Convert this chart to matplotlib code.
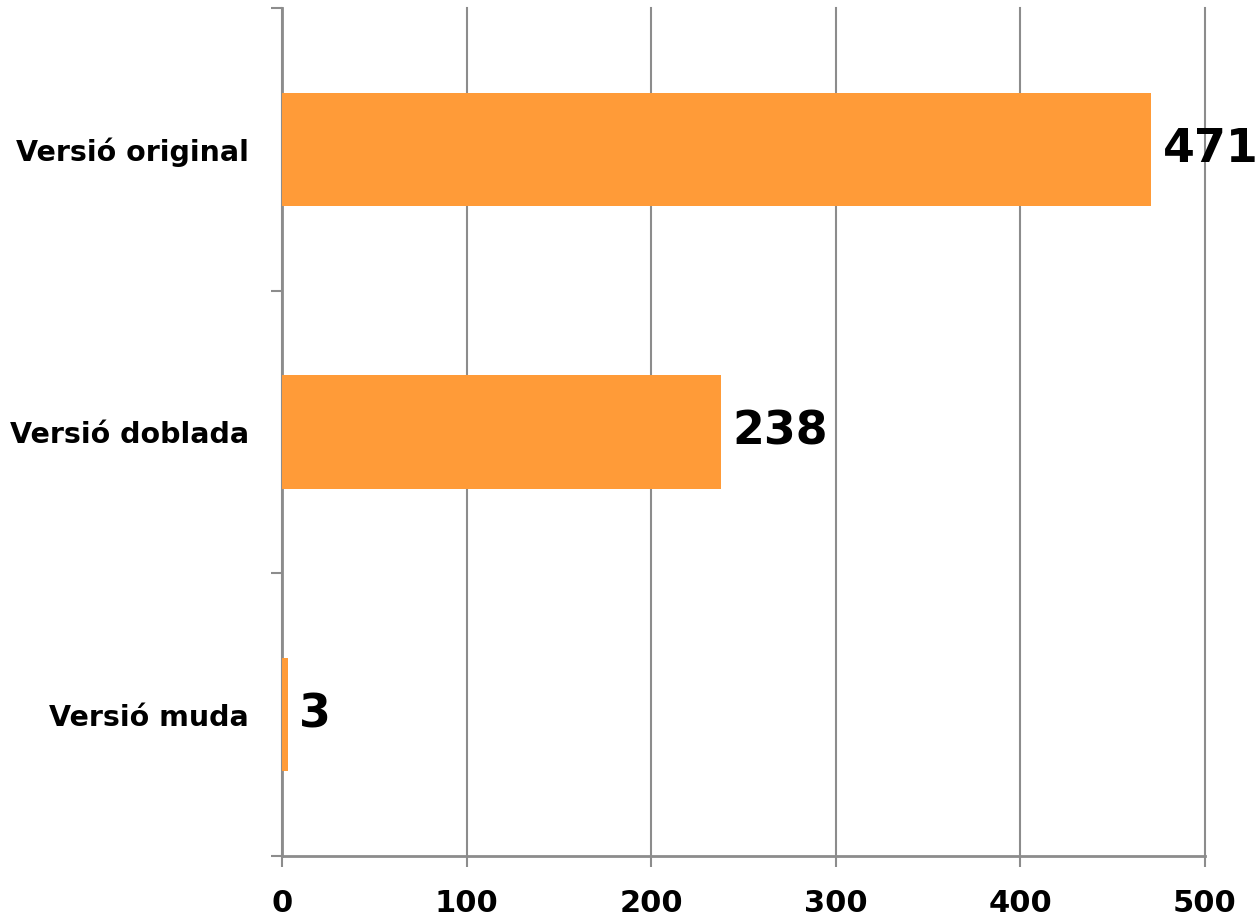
import matplotlib
matplotlib.use("Agg")
from matplotlib import pyplot as plt
import numpy as np

categories = ["Versió original", "Versió doblada", "Versió muda"]
values = [471, 238, 3]
x_ticks = [0, 100, 200, 300, 400, 500]

bar_color = "#FF9B38"
grid_color = "#8C8C8C"

fig = plt.figure(figsize=(12.6, 9.24), dpi=100)
ax = fig.add_axes([0.2238, 0.0736, 0.7325, 0.9177])

pos = np.arange(len(categories))
ax.barh(pos, values, height=0.4, color=bar_color, zorder=3)

for p, v in zip(pos, values):
    ax.text(v + 6, p, str(v), va="center", ha="left",
            fontsize=33, fontweight="bold", zorder=4)

ax.set_xlim(0, 500)
ax.set_ylim(len(categories) - 0.5, -0.5)
ax.set_xticks(x_ticks)
ax.set_xticklabels([str(t) for t in x_ticks], fontsize=22, fontweight="bold")
ax.set_yticks(pos)
ax.set_yticklabels(categories, fontsize=20.5, fontweight="bold")
ax.set_yticks(np.arange(len(categories) + 1) - 0.5, minor=True)

ax.tick_params(axis="y", which="major", length=0, pad=24)
ax.tick_params(axis="y", which="minor", length=8, width=1.5, color=grid_color)
ax.tick_params(axis="x", length=8, width=1.5, color=grid_color, pad=16)

ax.grid(axis="x", color=grid_color, linewidth=1.5, zorder=0)
ax.set_axisbelow(True)
for gl in ax.get_xgridlines():
    gl.set_clip_on(False)

for s in ["top", "right"]:
    ax.spines[s].set_visible(False)
for s in ["left", "bottom"]:
    ax.spines[s].set_color(grid_color)
    ax.spines[s].set_linewidth(2)

fig.savefig("out.png", dpi=100)
